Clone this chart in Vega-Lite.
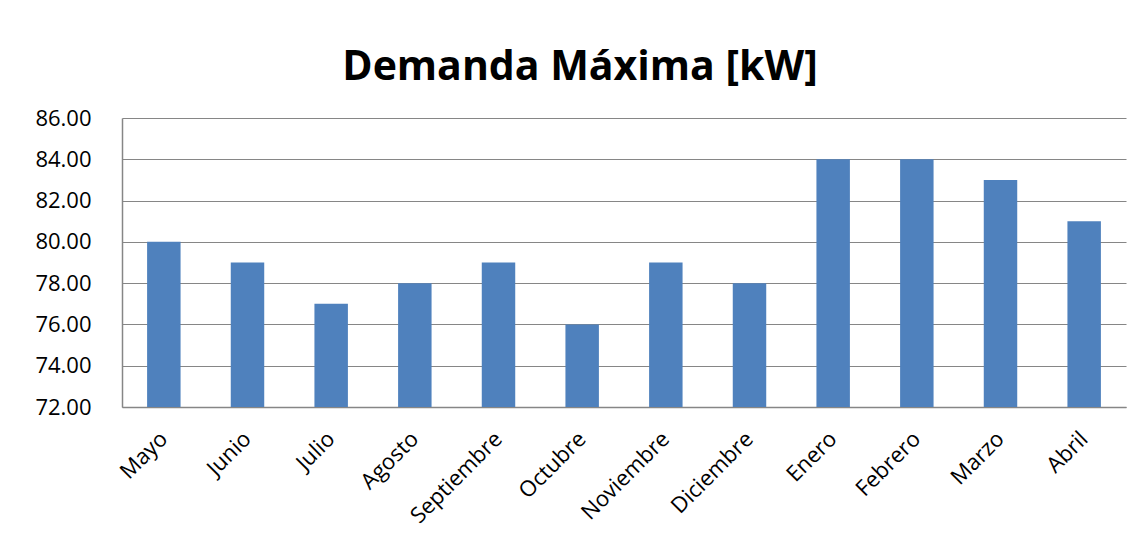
{
  "$schema": "https://vega.github.io/schema/vega-lite/v6.json",
  "autosize": "none",
  "width": 1004,
  "height": 289,
  "padding": {"left": 122, "top": 118, "right": 22, "bottom": 143},
  "background": "white",
  "title": {
    "text": "Demanda Máxima [kW]",
    "anchor": "middle",
    "font": "Open Sans",
    "fontSize": 41,
    "fontWeight": "bold",
    "color": "black",
    "baseline": "alphabetic",
    "offset": 41,
    "dy": 55,
    "dx": -44
  },
  "data": {
    "values": [
      {"mes": "Mayo", "kW": 80},
      {"mes": "Junio", "kW": 79},
      {"mes": "Julio", "kW": 77},
      {"mes": "Agosto", "kW": 78},
      {"mes": "Septiembre", "kW": 79},
      {"mes": "Octubre", "kW": 76},
      {"mes": "Noviembre", "kW": 79},
      {"mes": "Diciembre", "kW": 78},
      {"mes": "Enero", "kW": 84},
      {"mes": "Febrero", "kW": 84},
      {"mes": "Marzo", "kW": 83},
      {"mes": "Abril", "kW": 81}
    ]
  },
  "mark": {"type": "bar", "color": "#4F81BD", "clip": true},
  "encoding": {
    "x": {
      "field": "mes",
      "type": "nominal",
      "sort": null,
      "scale": {"paddingInner": 0.6, "paddingOuter": 0.3},
      "axis": {
        "title": null,
        "labelAngle": -45,
        "labelAlign": "right",
        "labelBaseline": "middle",
        "labelPadding": 28,
        "labelFont": "Open Sans",
        "labelFontSize": 22,
        "labelColor": "black",
        "ticks": false,
        "domainColor": "#868686",
        "domainWidth": 1.5,
        "grid": false
      }
    },
    "y": {
      "field": "kW",
      "type": "quantitative",
      "scale": {"domain": [72, 86], "zero": false, "nice": false},
      "axis": {
        "title": null,
        "values": [72, 74, 76, 78, 80, 82, 84, 86],
        "format": ".2f",
        "labelFont": "Open Sans",
        "labelFontSize": 22,
        "labelColor": "black",
        "labelPadding": 31,
        "ticks": false,
        "domainColor": "#868686",
        "domainWidth": 1.5,
        "grid": true,
        "gridColor": "#868686",
        "gridWidth": 1.2
      }
    }
  },
  "config": {
    "view": {"stroke": null}
  }
}
